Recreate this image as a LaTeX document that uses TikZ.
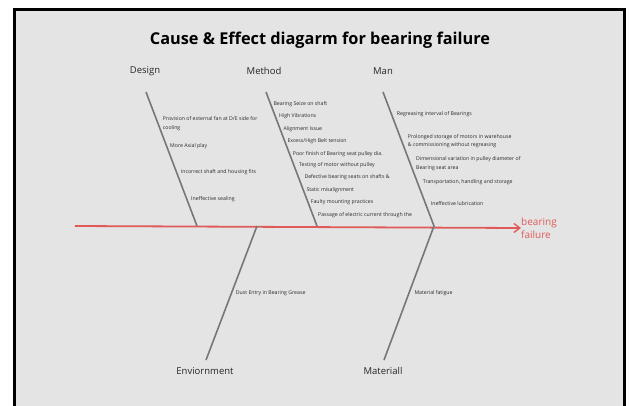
\documentclass[tikz,border=0pt]{standalone}
\usepackage{fontspec}
\setmainfont{Open Sans}
\usetikzlibrary{arrows.meta}
\definecolor{bgc}{HTML}{E4E4E4}
\definecolor{bonec}{HTML}{777777}
\definecolor{spinec}{HTML}{E05A5A}
\definecolor{txtc}{HTML}{2A2A2A}
\tikzset{
  bone/.style={draw=bonec, line width=1.6pt},
  spine/.style={draw=spinec, line width=1.8pt, -{Straight Barb[length=6pt,width=9pt,line width=1.4pt]}},
  cause/.style={anchor=west, inner sep=0pt, text=txtc, font=\fontsize{5.2}{8.3}\selectfont, align=left},
  cat/.style={inner sep=0pt, text=black!85, font=\fontsize{9.5}{11}\selectfont},
}
\begin{document}
\begin{tikzpicture}[x=1pt,y=-1pt]
\useasboundingbox (0,0) rectangle (629,405);
\begin{scope}
\clip (0,0) rectangle (629,405);
\draw[fill=bgc, draw=black, line width=3.5pt] (14.5,9.5) rectangle (624.5,420);
\end{scope}
\node[inner sep=0pt, font=\bfseries\fontsize{16.3}{19}\selectfont] (title) at (320,40) {Cause \& Effect diagarm for bearing failure};

% spine
\coordinate (s0) at (75,226);
\node[anchor=west, inner sep=0pt, text=spinec, align=left, font=\fontsize{10}{12.5}\selectfont] (effect) at (521,228) {bearing\\failure};
\draw[spine] (s0) -- (effect.west);

% bone coordinates
\coordinate (d1) at (146,92); \coordinate (d2) at (197,226);
\coordinate (m1) at (266,92); \coordinate (m2) at (317,226);
\coordinate (n1) at (383,92); \coordinate (n2) at (434,226);
\coordinate (e1) at (257,226); \coordinate (e2) at (206,360);
\coordinate (t1) at (434,226); \coordinate (t2) at (384,360);
\draw[bone] (d1) -- (d2);
\draw[bone] (m1) -- (m2);
\draw[bone] (n1) -- (n2);
\draw[bone] (e1) -- (e2);
\draw[bone] (t1) -- (t2);

% categories
\node[cat] (design) at (145,71) {Design};
\node[cat] (method) at (264,71) {Method};
\node[cat] (man) at (383,71) {Man};
\node[cat] (env) at (205,371) {Enviornment};
\node[cat] (mat) at (383,371) {Materiall};

% design causes
\node[cause] (d-a) at (162.7,123.5) {Provision of external fan at D/E side for\\cooling};
\node[cause] (d-b) at (170,146) {More Axial play};
\node[cause] (d-c) at (180.7,171.7) {Incorrect shaft and housing fits};
\node[cause] (d-d) at (191,199) {Ineffective sealing};

% method causes
\node[cause] (m-a) at (273.3,104) {Bearing Seize on shaft};
\node[cause] (m-b) at (279,116) {High Vibrations};
\node[cause] (m-c) at (283.3,129) {Alignment Issue};
\node[cause] (m-d) at (287.3,141) {Excess/High Belt tension};
\node[cause] (m-e) at (292.7,153.7) {Poor finish of Bearing seat pulley dia.};
\node[cause] (m-f) at (299,165) {Testing of motor without pulley};
\node[cause] (m-g) at (304.3,177) {Defective bearing seats on shafts \&};
\node[cause] (m-h) at (306.3,190) {Static misalignment};
\node[cause] (m-i) at (310.7,202) {Faulty mounting practices};
\node[cause] (m-j) at (318,215) {Passage of electric current through the};

% man causes
\node[cause] (n-a) at (396.7,114.3) {Regreasing interval of Bearings};
\node[cause] (n-b) at (407.7,141) {Prolonged storage of motors in warehouse\\\& commissioning without regreasing};
\node[cause] (n-c) at (416,163.6) {Dimensional variation in pulley diameter of\\Bearing seat area};
\node[cause] (n-d) at (422.7,182) {Transportation, handling and storage};
\node[cause] (n-e) at (430.7,204) {Ineffective lubrication};

% lower causes
\node[cause] (e-a) at (235.7,293.3) {Dust Entry in Bearing Grease};
\node[cause] (t-a) at (414.3,293.3) {Material fatigue};
\end{tikzpicture}
\end{document}
